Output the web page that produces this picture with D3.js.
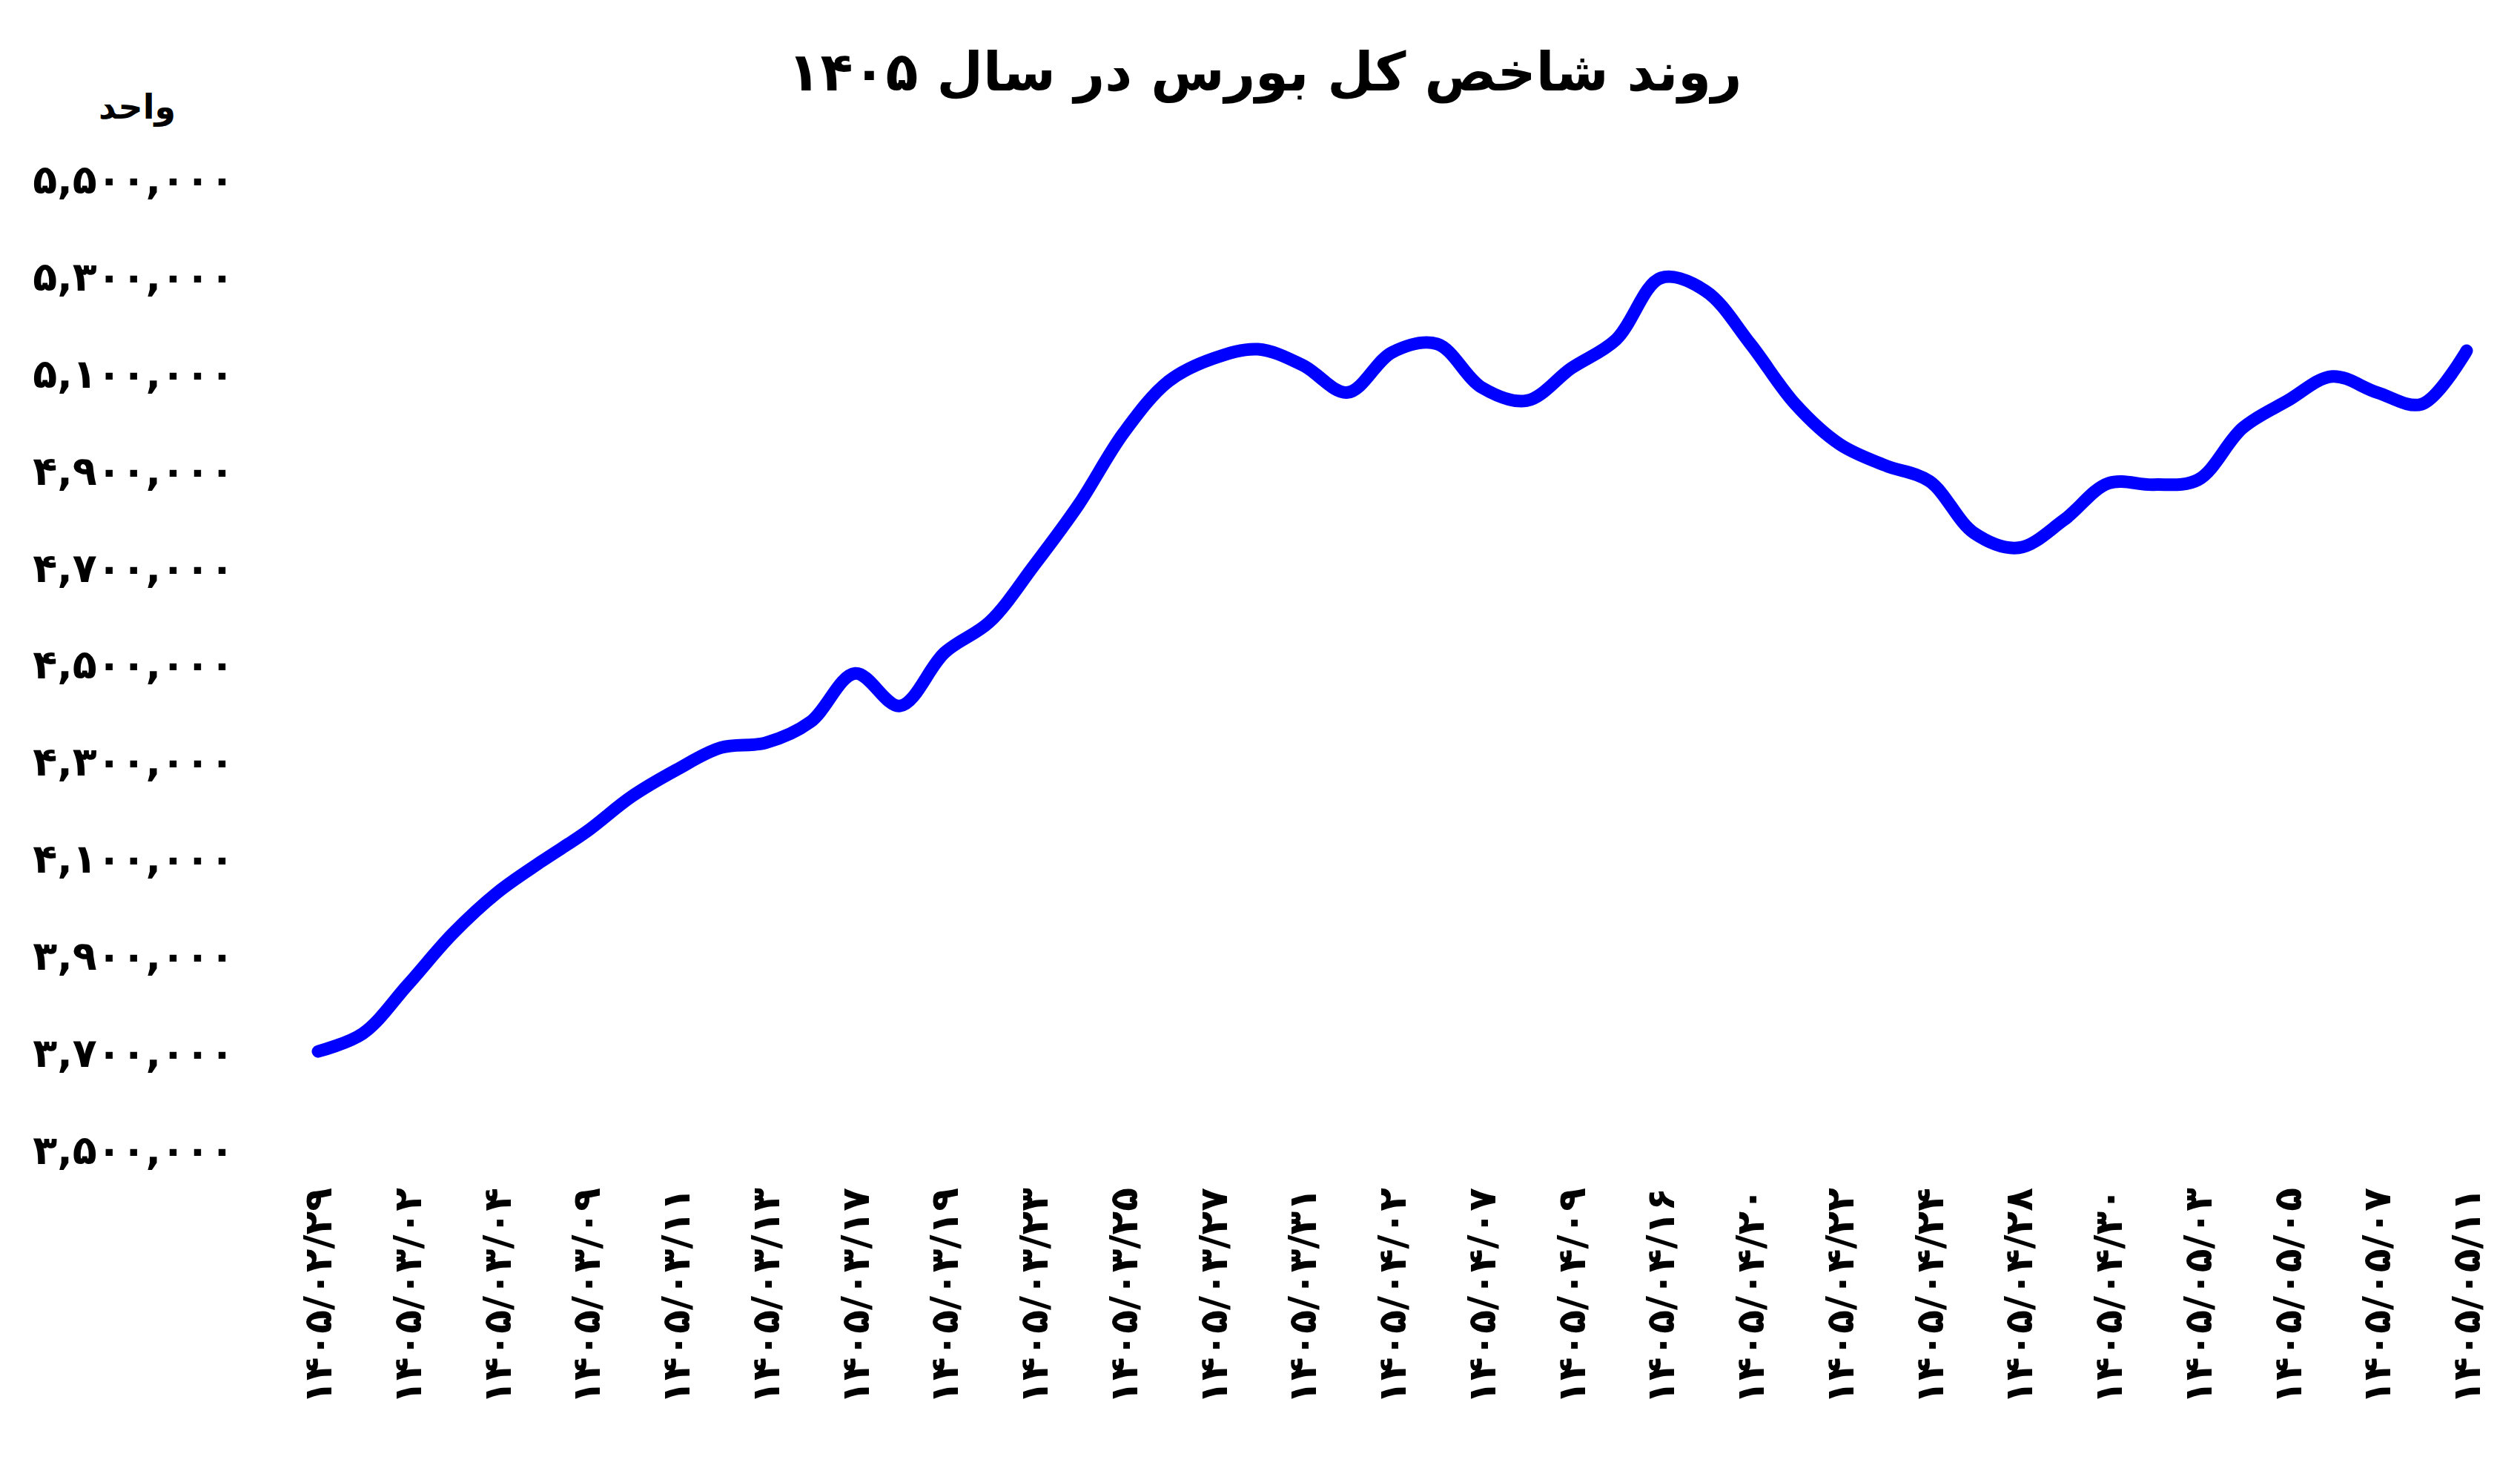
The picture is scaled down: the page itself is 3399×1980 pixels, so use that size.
<!DOCTYPE html>
<html><head><meta charset="utf-8">
<script src="https://cdn.jsdelivr.net/npm/d3@7"></script>
<style>body{margin:0;background:#fff}text{font-family:"DejaVu Sans",sans-serif;font-weight:bold}</style>
</head><body><svg id="c" width="3399" height="1980"></svg>
<script>
const dates = ["1405/02/29","1405/03/02","1405/03/04","1405/03/09","1405/03/11","1405/03/13","1405/03/17","1405/03/19","1405/03/23","1405/03/25","1405/03/27","1405/03/31","1405/04/02","1405/04/07","1405/04/09","1405/04/16","1405/04/20","1405/04/22","1405/04/24","1405/04/28","1405/04/30","1405/05/03","1405/05/05","1405/05/07","1405/05/11"];
// index values at half-label steps (thousands)
const values = [3703,3740,3840,3945,4030,4095,4156,4228,4283,4329,4339,4382,4482,4415,4525,4588,4705,4831,4978,5084,5131,5150,5117,5061,5144,5161,5071,5044,5111,5170,5297,5270,5161,5037,4954,4911,4878,4771,4741,4798,4874,4871,4881,4988,5044,5094,5061,5037,5147];
const yTicks = [3500000,3700000,3900000,4100000,4300000,4500000,4700000,4900000,5100000,5300000,5500000];

const fa = s => String(s).replace(/\d/g, d => "۰۱۲۳۴۵۶۷۸۹"[d]);
const svg = d3.select("#c");
const x = d3.scaleLinear().domain([0, values.length - 1]).range([429, 3327]);
const y = d3.scaleLinear().domain([3500000, 5500000]).range([1551, 242]);

svg.append("text").attr("x", 1706).attr("y", 122).attr("text-anchor", "middle")
  .attr("font-size", 72).text("روند شاخص کل بورس در سال " + fa(1405));
svg.append("text").attr("x", 185).attr("y", 160).attr("text-anchor", "middle")
  .attr("font-size", 46).text("واحد");

svg.selectAll(".yt").data(yTicks).join("text").attr("class", "yt")
  .attr("x", 316).attr("y", d => y(d)).attr("dy", "0.35em").attr("text-anchor", "end")
  .attr("font-size", 54).text(d => fa(d3.format(",")(d)));

svg.selectAll(".xt").data(dates).join("text").attr("class", "xt")
  .attr("transform", (d, i) => `translate(${x(i * 2) + 18},1602) rotate(-90)`)
  .attr("text-anchor", "end").attr("font-size", 52).text(d => fa(d));

const line = d3.line().x((d, i) => x(i)).y(d => y(d * 1000)).curve(d3.curveCatmullRom.alpha(0.5));
svg.append("path").datum(values).attr("d", line).attr("fill", "none")
  .attr("stroke", "#0000ff").attr("stroke-width", 17).attr("stroke-linecap", "round");
</script></body></html>
